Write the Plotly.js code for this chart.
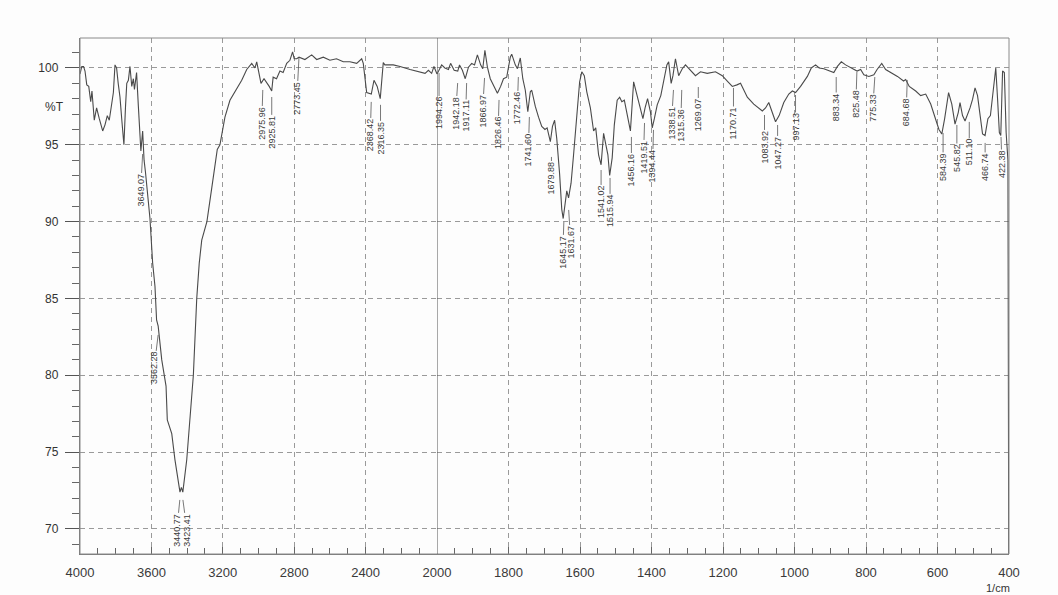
<!DOCTYPE html>
<html>
<head>
<meta charset="utf-8">
<script src="https://cdn.plot.ly/plotly-3.0.1.min.js"></script>
<style>html,body{margin:0;padding:0;background:#fdfdfd;}#chart{width:1058px;height:595px;}</style>
</head>
<body>
<div id="chart"></div>
<script>
// ---- Spectrum data, 4000-2000 1/cm (compressed scale) ----
const hiWn = [4000,3990,3980,3972,3962,3951,3940,3933,3920,3907,3892,3873,3860,3847,3836,3822,3813,3804,3795,3786,3776,3765,3754,3745,3738,3729,3720,3710,3701,3695,3683,3673,3664,3659,3649,3641,3633,3623,3616,3608,3593,3580,3571,3562,3542,3518,3511,3486,3468,3450,3440,3432,3424,3402,3378,3365,3346,3332,3318,3289,3263,3231,3216,3188,3160,3122,3094,3066,3038,3020,3010,2986,2969,2940,2926,2918,2899,2880,2862,2842,2824,2809,2800,2786,2773,2740,2702,2674,2637,2600,2563,2525,2488,2450,2422,2413,2394,2368,2353,2335,2318,2301,2292,2245,2207,2151,2095,2067,2048,2030,2017,2000];
const hiT  = [99.6,100.1,100.1,99.8,98.9,98.8,97.8,98.5,96.6,97.4,96.7,95.9,96.3,96.9,96.6,97.8,98.4,100.2,100.0,99.0,98.1,96.5,95.0,97.5,99.0,99.2,100.1,98.8,99.3,98.6,99.7,97.5,95.5,94.6,95.9,94.0,93.2,91.8,90.9,90.2,87.3,85.8,83.6,83.2,81.0,79.3,77.1,76.2,74.5,73.0,72.4,72.7,72.4,74.5,78.0,80.0,85.0,87.3,88.8,90.0,92.1,94.7,95.0,96.8,97.9,98.6,99.2,99.9,100.3,100.0,100.4,99.0,99.3,98.8,98.5,99.4,99.3,99.8,99.7,100.3,100.5,101.05,100.6,100.6,100.7,100.55,100.85,100.55,100.7,100.5,100.6,100.4,100.4,100.3,100.6,100.3,98.4,98.3,99.2,98.8,98.0,100.35,100.2,100.2,100.1,99.9,99.75,99.65,99.85,99.65,100.1,99.6];

// ---- Spectrum data, 2000-400 1/cm ----
const loWn = [2000,1996,1987,1978,1968,1962,1952,1942,1937,1929,1921,1912,1903,1895,1887,1878,1872,1866,1859,1851,1842,1831,1822,1814,1805,1795,1791,1781,1775,1767,1760,1753,1746,1739,1735,1725,1716,1707,1698,1692,1683,1677,1671,1665,1657,1651,1647,1641,1637,1632,1625,1618,1609,1601,1595,1588,1581,1571,1562,1556,1548,1541,1534,1528,1522,1517,1510,1504,1496,1489,1483,1476,1468,1459,1450,1440,1430,1424,1418,1411,1403,1398,1392,1384,1374,1366,1357,1352,1345,1340,1333,1324,1314,1305,1291,1277,1263,1244,1221,1202,1188,1174,1161,1151,1132,1114,1090,1081,1072,1062,1053,1043,1030,1016,1006,997,983,964,953,941,931,918,899,890,880,869,857,848,834,825,815,806,792,778,769,756,745,731,712,695,689,679,661,647,633,619,605,596,588,580,569,560,551,542,537,530,523,517,509,502,495,488,480,474,467,459,452,443,437,432,427,423,418,413,408,403,401,400];
const loT  = [99.6,99.8,100.2,100.0,99.9,100.3,99.85,99.8,100.2,99.85,99.3,100.05,100.3,100.2,100.85,100.2,99.95,101.15,100.05,99.3,98.9,98.35,98.8,99.3,99.4,100.7,100.9,100.2,99.95,100.65,99.3,98.55,97.15,98.45,98.55,97.5,96.8,96.2,96.0,96.1,95.2,96.2,96.6,95.4,93.1,90.8,90.2,91.4,92.0,91.55,92.5,94.35,96.95,99.1,99.75,99.5,98.45,97.4,95.9,96.1,94.35,93.7,95.75,95.0,94.35,93.0,94.15,96.3,97.9,98.1,97.8,97.9,96.95,95.9,99.1,98.2,97.4,96.7,97.4,98.0,97.15,96.1,96.7,97.6,98.2,99.1,100.2,100.4,99.0,99.5,100.6,99.5,99.95,100.2,99.85,99.5,99.75,99.65,99.75,99.5,99.15,98.8,98.9,99.0,98.1,97.65,97.2,97.4,97.75,97.1,96.5,96.9,97.75,98.3,98.5,98.4,98.8,99.45,100.0,100.2,100.0,99.95,99.8,99.7,100.1,100.4,100.2,100.1,99.95,99.8,99.9,99.55,99.45,99.55,99.9,100.3,99.9,99.7,99.45,99.15,99.25,98.8,98.5,98.2,98.3,97.65,96.6,96.0,95.7,96.7,98.4,97.65,96.35,97.1,97.75,96.9,96.55,96.9,97.4,97.95,98.7,98.2,96.9,95.7,95.6,96.7,96.9,98.6,100.0,98.0,95.8,95.6,99.8,99.7,95.8,94.0,80.0,60.0];

// ---- Peak labels ----
const peakWn   = [3649.07,3562.28,3440.77,3423.41,2975.96,2925.81,2773.45,2368.42,2316.35,1994.26,1942.18,1917.11,1866.97,1826.46,1772.46,1741.60,1679.88,1645.17,1631.67,1541.02,1515.94,1456.16,1419.51,1394.44,1338.51,1315.36,1269.07,1170.71,1083.92,1047.27,997.13,883.34,825.48,775.33,684.68,584.39,545.82,511.10,466.74,422.38];
const peakText = ["3649.07","3562.28","3440.77","3423.41","2975.96","2925.81","2773.45","2368.42","2316.35","1994.26","1942.18","1917.11","1866.97","1826.46","1772.46","1741.60","1679.88","1645.17","1631.67","1541.02","1515.94","1456.16","1419.51","1394.44","1338.51","1315.36","1269.07","1170.71","1083.92","1047.27","997.13","883.34","825.48","775.33","684.68","584.39","545.82","511.10","466.74","422.38"];

// ---- Label placement (layout, %T of leader top / text centre, pixel shift) ----
const labelTop = [94.4,82.63,71.89,71.89,98.57,98.11,100.65,97.79,97.6,99.67,99.02,99.02,99.35,97.92,99.41,96.81,94.21,89.98,90.76,93.36,92.84,95.51,96.42,95.97,98.57,98.57,98.76,98.7,96.94,96.29,98.24,99.41,99.74,99.41,99.22,95.77,96.29,96.49,95.12,95.51];
const labelMid = [92.06,80.48,69.94,69.94,96.42,95.84,98.05,95.64,95.45,97.07,97.07,96.88,97.2,95.77,97.4,94.66,92.84,88.03,88.68,91.28,90.7,93.36,94.21,93.62,96.42,96.29,96.94,96.42,94.86,94.47,96.16,97.46,97.66,97.4,97.14,93.56,94.14,94.53,93.56,93.75];
const labelDx  = [-2,-4,-3,4,-1,0,-2,-1,0,0,-2,-1,-2,-1,-1,-1,0,-1,2,0,0,0,-1,-1,-2,-1,0,0,0,0,0,0,-1,-2,-1,0,0,0,0,1];

const yTicks = [70,75,80,85,90,95,100];
const xTicksHi = [4000,3600,3200,2800,2400];
const xTicksLo = [2000,1800,1600,1400,1200,1000,800,600,400];

const lineColor = '#4a4a4a';
const gridDash = '5px,4px';
const split = (437 - 80) / 929;

const traces = [
  {x: hiWn, y: hiT, xaxis: 'x', yaxis: 'y', type: 'scatter', mode: 'lines',
   line: {color: lineColor, width: 1.1}, hoverinfo: 'skip'},
  {x: loWn, y: loT, xaxis: 'x2', yaxis: 'y', type: 'scatter', mode: 'lines',
   line: {color: lineColor, width: 1.1}, hoverinfo: 'skip'}
];

const annotations = peakWn.map((w, i) => ({
  x: w, y: labelTop[i], xref: w >= 2000 ? 'x' : 'x2', yref: 'y',
  text: peakText[i], textangle: -90, showarrow: true, arrowhead: 0,
  arrowwidth: 0.8, arrowcolor: '#555', standoff: 0, borderpad: 0,
  axref: 'pixel', ax: labelDx[i], ayref: 'y', ay: labelMid[i],
  font: {family: 'Liberation Sans, Arial, sans-serif', size: 9, color: '#3a3a3a'}
}));
annotations.push({
  xref: 'paper', yref: 'y', x: (54 - 80) / 929, y: 97.45, text: '%T',
  showarrow: false, xanchor: 'center', yanchor: 'middle',
  font: {family: 'Liberation Sans, Arial, sans-serif', size: 12, color: '#333'}
});
annotations.push({
  xref: 'paper', yref: 'paper', x: (998 - 80) / 929, y: -(588 - 554) / 516, text: '1/cm',
  showarrow: false, xanchor: 'center', yanchor: 'middle',
  font: {family: 'Liberation Sans, Arial, sans-serif', size: 11, color: '#333'}
});

const axFont = {family: 'Liberation Sans, Arial, sans-serif', size: 13, color: '#3a3a3a'};
const commonX = {
  tickmode: 'array', ticks: 'inside', ticklen: 7, tickcolor: '#666', tickwidth: 1,
  showgrid: true, gridcolor: '#9a9a9a', griddash: gridDash, gridwidth: 1,
  zeroline: false, showline: true, linecolor: '#777', linewidth: 1.2,
  tickfont: axFont, ticklabelstandoff: 6, anchor: 'y', fixedrange: true
};

const layout = {
  width: 1058, height: 595,
  margin: {l: 80, r: 49, t: 38, b: 41},
  paper_bgcolor: '#fdfdfd', plot_bgcolor: '#fdfdfd',
  showlegend: false,
  xaxis: Object.assign({}, commonX, {
    domain: [0, split], range: [4000, 2000], tickvals: xTicksHi,
    minor: {tickmode: 'linear', tick0: 0, dtick: 100, ticks: 'inside', ticklen: 6, tickcolor: '#666', showgrid: false}
  }),
  xaxis2: Object.assign({}, commonX, {
    domain: [split, 1], range: [2000, 400], tickvals: xTicksLo,
    minor: {tickmode: 'linear', tick0: 0, dtick: 50, ticks: 'inside', ticklen: 6, tickcolor: '#666', showgrid: false}
  }),
  yaxis: {
    range: [68.37, 101.95], tickmode: 'array', tickvals: yTicks,
    ticks: 'outside', ticklen: 14, tickcolor: '#555', tickwidth: 1,
    minor: {tickmode: 'linear', tick0: 0, dtick: 1, ticks: 'outside', ticklen: 7, tickcolor: '#666', showgrid: false},
    showgrid: true, gridcolor: '#9a9a9a', griddash: gridDash, gridwidth: 1,
    zeroline: false, showline: true, linecolor: '#777', linewidth: 1.2,
    tickfont: {family: 'Liberation Sans, Arial, sans-serif', size: 12, color: '#333'},
    ticklabelstandoff: 4, anchor: 'x', fixedrange: true
  },
  shapes: [
    {type: 'rect', xref: 'paper', yref: 'paper', x0: 0, x1: 1, y0: 0, y1: 1,
     line: {color: '#8a8a8a', width: 1}, fillcolor: 'rgba(0,0,0,0)', layer: 'above'},
    {type: 'line', xref: 'x2', yref: 'paper', x0: 2000, x1: 2000, y0: 0, y1: 1,
     line: {color: '#555', width: 1}}
  ],
  annotations: annotations
};

Plotly.newPlot('chart', traces, layout, {displayModeBar: false, staticPlot: true});
</script>
</body>
</html>
